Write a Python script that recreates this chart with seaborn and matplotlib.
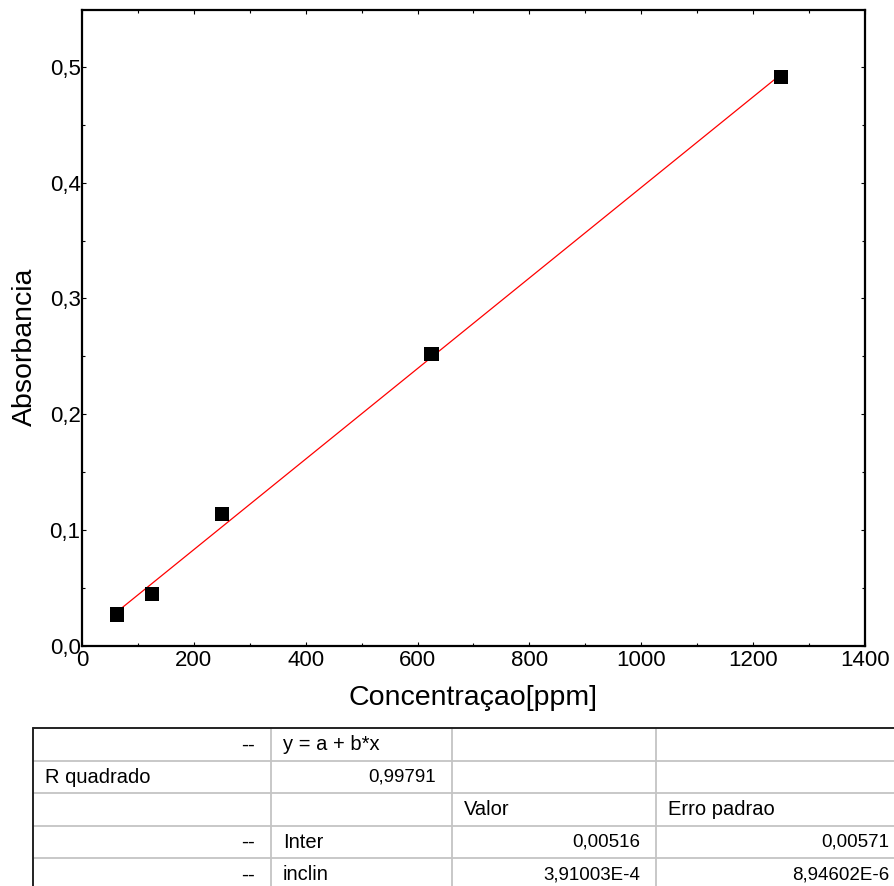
import matplotlib
matplotlib.use("Agg")
import matplotlib.pyplot as plt
from matplotlib.ticker import FuncFormatter, MultipleLocator
import seaborn as sns
import pandas as pd

# ---- data ----
concentracao = [62.5, 125, 250, 625, 1250]
absorbancia = [0.027, 0.045, 0.114, 0.252, 0.491]

x_ticks = [0, 200, 400, 600, 800, 1000, 1200, 1400]
y_ticks = [0.0, 0.1, 0.2, 0.3, 0.4, 0.5]

table_col0 = ["--", "R quadrado", "", "--", "--"]
table_col1 = ["y = a + b*x", "0,99791", "", "Inter", "inclin"]
table_col2 = ["", "", "Valor", "0,00516", "3,91003E-4"]
table_col3 = ["", "", "Erro padrao", "0,00571", "8,94602E-6"]

# ---- style ----
sns.set_style("ticks")
plt.rcParams["font.family"] = ["Liberation Sans", "DejaVu Sans"]
plt.rcParams["text.color"] = "black"
plt.rcParams["axes.labelcolor"] = "black"
plt.rcParams["xtick.color"] = "black"
plt.rcParams["ytick.color"] = "black"

W, H = 895, 886
fig = plt.figure(figsize=(W / 100, H / 100), dpi=100)

ax = fig.add_axes([82 / W, 1 - 646 / H, (865 - 82) / W, (646 - 10) / H])
df = pd.DataFrame({"x": concentracao, "y": absorbancia})
sns.regplot(data=df, x="x", y="y", ax=ax, ci=None, truncate=True,
            marker="s",
            scatter_kws=dict(s=110, color="black", edgecolors="none", zorder=3, alpha=1),
            line_kws=dict(color="red", lw=0.9, zorder=2))

ax.set_xlim(0, 1400)
ax.set_ylim(0, 0.549)
ax.set_xticks(x_ticks)
ax.set_yticks(y_ticks)
ax.xaxis.set_minor_locator(MultipleLocator(100))
ax.yaxis.set_minor_locator(MultipleLocator(0.05))
ax.yaxis.set_major_formatter(FuncFormatter(lambda v, p: f"{v:.1f}".replace(".", ",")))
ax.tick_params(which="both", direction="in", top=True, right=True, labelsize=16,
               color="black", labelcolor="black", width=0.8)
ax.tick_params(which="major", length=3, pad=3)
ax.tick_params(which="minor", length=2)
ax.tick_params(axis="y", which="major", pad=1)
for s in ax.spines.values():
    s.set_linewidth(1.6)
    s.set_color("black")
ax.set_xlabel("Concentraçao[ppm]", fontsize=20.5, labelpad=10)
ax.set_ylabel("Absorbancia", fontsize=20.5)
ax.yaxis.set_label_coords(-0.056, 0.47)

# ---- results table ----
tax = fig.add_axes([0, 0, 1, 1], zorder=-1)
tax.set_xlim(0, W)
tax.set_ylim(H, 0)
tax.axis("off")

col_edges = [33, 271, 452, 656, 905]
row_top = 728
row_h = 32.5
n_rows = 5
grey = "#c4c4c4"

for i in range(1, n_rows + 1):
    yy = row_top + i * row_h
    tax.plot([col_edges[0], col_edges[-1]], [yy, yy], color=grey, lw=1.3, clip_on=False)
for xe in col_edges[1:-1]:
    tax.plot([xe, xe], [row_top, H + 5], color=grey, lw=1.3, clip_on=False)
tax.plot([col_edges[0], col_edges[-1]], [row_top, row_top], color="#222222", lw=1.4, clip_on=False)
tax.plot([col_edges[0], col_edges[0]], [row_top, H + 5], color="#222222", lw=1.4, clip_on=False)

cols = [table_col0, table_col1, table_col2, table_col3]
left_pad, right_pad = 12, 16
for r in range(n_rows):
    yc = row_top + (r + 0.5) * row_h + 0.5
    for c in range(4):
        txt = cols[c][r]
        if not txt:
            continue
        if txt == "--":
            tax.text(col_edges[c + 1] - right_pad, yc, txt, ha="right", va="center",
                     fontsize=15, color="black")
        elif txt[0].isdigit():
            tax.text(col_edges[c + 1] - right_pad, yc, txt, ha="right", va="center",
                     fontsize=13.5, color="black")
        else:
            tax.text(col_edges[c] + left_pad, yc, txt, ha="left", va="center",
                     fontsize=14.5, color="black")

fig.savefig("out.png", dpi=100)
